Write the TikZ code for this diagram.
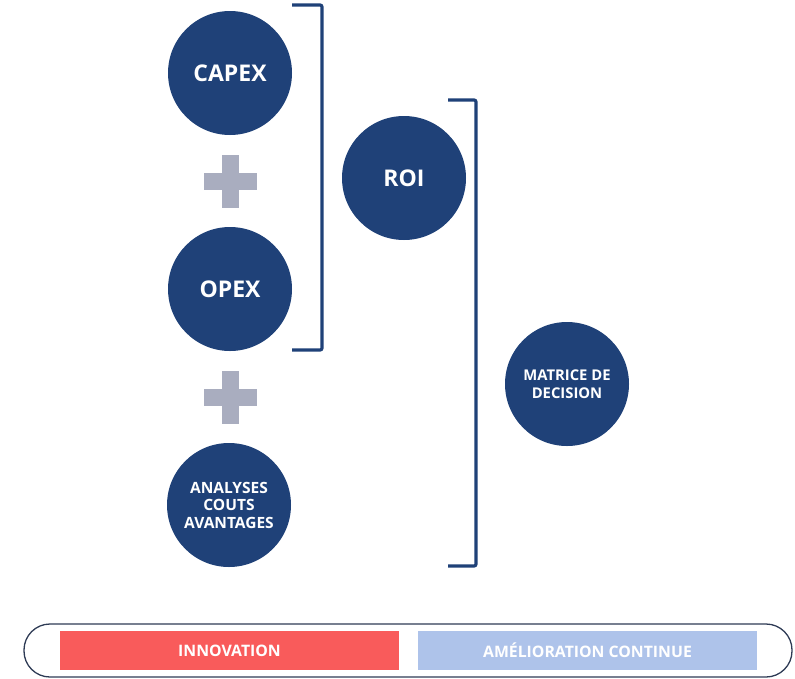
\documentclass[tikz,border=0pt]{standalone}
\usepackage{fontspec}
\setmainfont{Open Sans}
\definecolor{navy}{HTML}{1F4178}
\definecolor{plusgray}{HTML}{A9ADBF}
\definecolor{innored}{HTML}{F95B5B}
\definecolor{amelblue}{HTML}{AEC3EA}
\definecolor{frame}{HTML}{2E3B55}
\begin{document}
\begin{tikzpicture}[x=1pt,y=-1pt,
  bubble/.style={circle,fill=navy,minimum size=124pt,inner sep=0pt,text=white,font=\bfseries,align=center},
  bracketline/.style={draw=navy,line width=3.2pt,rounded corners=2pt},
  tagbox/.style={minimum width=339pt,minimum height=39pt,inner sep=0pt,text=white,font=\bfseries\fontsize{15.8}{18}\selectfont}]
\useasboundingbox (0,0) rectangle (795,678);
\node[bubble,font=\bfseries\fontsize{23}{26}\selectfont] (capex) at (230,73) {CAPEX};
\node[bubble,font=\bfseries\fontsize{23}{26}\selectfont] (opex) at (230,289) {OPEX};
\node[bubble,font=\bfseries\fontsize{15.5}{17.5}\selectfont] (acb) at (229,505) {ANALYSES\\COUTS\\AVANTAGES};
\node[bubble,font=\bfseries\fontsize{23}{26}\selectfont] (roi) at (404,178) {ROI};
\node[bubble,font=\bfseries\fontsize{14.8}{18}\selectfont] (mat) at (567,384) {MATRICE DE\\DECISION};
% plus signs
\foreach \cy/\nm in {181/plusa,397/plusb}{
  \fill[plusgray] (221.5,\cy-26.5) rectangle (238.5,\cy+26.5);
  \fill[plusgray] (203.5,\cy-8.5) rectangle (256.5,\cy+8.5);
  \coordinate (\nm) at (230,\cy);
}
% brackets
\coordinate (b1t) at (292,5);
\coordinate (b1b) at (292,350);
\draw[bracketline] (b1t) -- (322,5) -- (322,350) -- (b1b);
\coordinate (b2t) at (448,100);
\coordinate (b2b) at (448,566);
\draw[bracketline] (b2t) -- (476,100) -- (476,566) -- (b2b);
% bottom bar
\draw[frame,line width=1.3pt,rounded corners=26pt] (24,624) rectangle (792,677);
\node[tagbox,fill=innored] (inno) at (229.5,650.5) {INNOVATION};
\node[tagbox,fill=amelblue] (amel) at (587.5,650.5) {AMÉLIORATION CONTINUE};
\end{tikzpicture}
\end{document}
